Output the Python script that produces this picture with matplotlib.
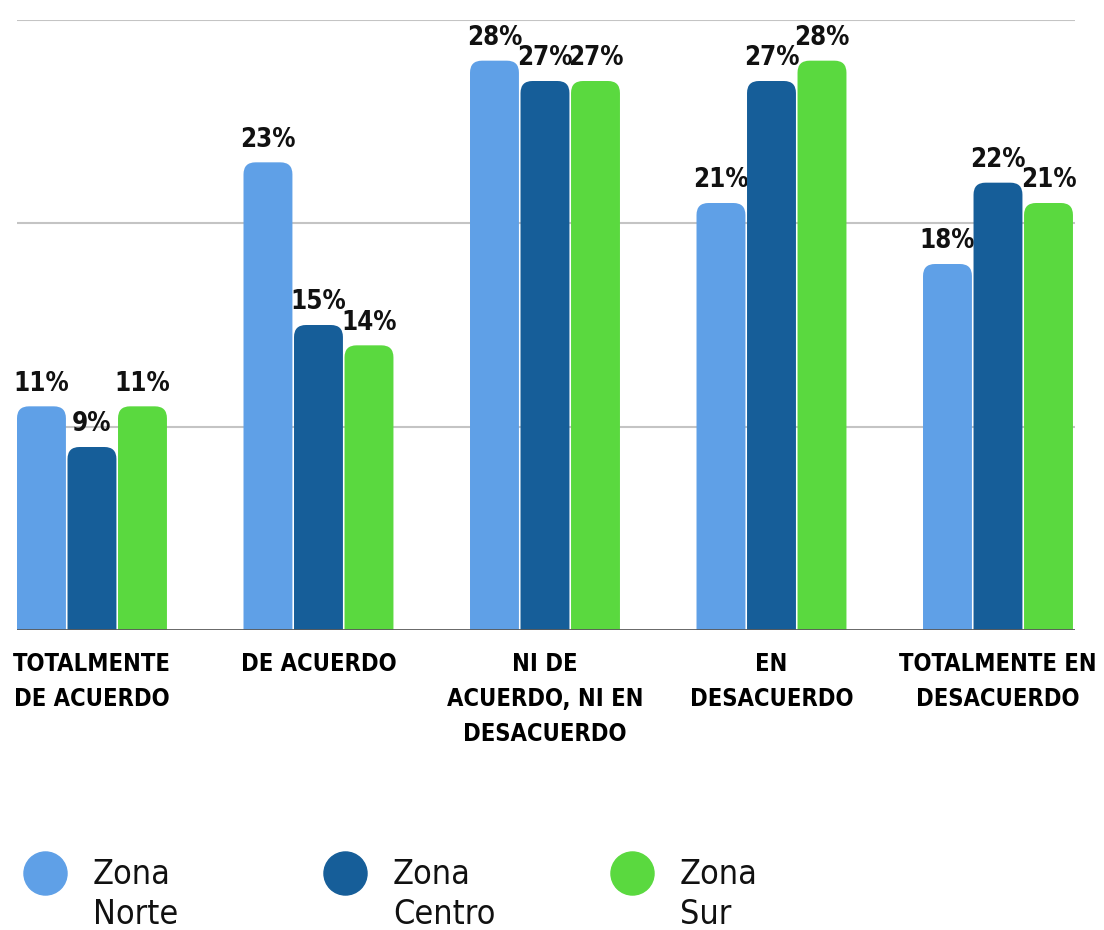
"""
Grouped bar chart of agreement levels by zone, with rounded bar tops.
"""

import matplotlib.pyplot as plt
from matplotlib.lines import Line2D
from matplotlib.patches import FancyBboxPatch

categories = [
    "TOTALMENTE\nDE ACUERDO",
    "DE ACUERDO",
    "NI DE\nACUERDO, NI EN\nDESACUERDO",
    "EN\nDESACUERDO",
    "TOTALMENTE EN\nDESACUERDO",
]
zona_norte = [11, 23, 28, 21, 18]
zona_centro = [9, 15, 27, 27, 22]
zona_sur = [11, 14, 27, 28, 21]
series_names = ["Zona\nNorte", "Zona\nCentro", "Zona\nSur"]
colors = ["#5fa0e7", "#165e99", "#5ad93f"]

FONT = "DejaVu Sans"


def main():
    fig = plt.figure(figsize=(11.04, 9.3), dpi=100)
    ax = fig.add_axes([17 / 1104, 1 - 630 / 930, 1058 / 1104, 610 / 930])

    xmin, xmax = -0.331, 4.34
    ymin, ymax = 0, 30
    ax.set_xlim(xmin, xmax)
    ax.set_ylim(ymin, ymax)

    # pixels per data unit, used to keep the rounded corners circular
    px_x = 1058 / (xmax - xmin)
    px_y = 610 / (ymax - ymin)
    aspect = px_x / px_y
    radius = 12 / px_x

    width = 0.216
    step = 0.223
    series = [zona_norte, zona_centro, zona_sur]

    for s, (values, color) in enumerate(zip(series, colors)):
        for i, v in enumerate(values):
            x0 = i + (s - 1) * step - width / 2
            patch = FancyBboxPatch(
                (x0, -3),
                width,
                v + 3,
                boxstyle=f"round,pad=0,rounding_size={radius}",
                mutation_aspect=aspect,
                facecolor=color,
                edgecolor="none",
                zorder=3,
            )
            ax.add_patch(patch)
            ax.annotate(
                f"{v}%",
                (i + (s - 1) * step, v),
                xytext=(0, 7),
                textcoords="offset points",
                ha="center",
                va="bottom",
                fontsize=18.5,
                fontweight="bold",
                fontstretch="condensed",
                family=FONT,
                color="#111111",
                annotation_clip=False,
            )

    for y in [10, 20, 30]:
        ax.axhline(y, color="#c4c4c4", linewidth=1.5, zorder=1)
    ax.axhline(0, color="#5a5a5a", linewidth=2, zorder=4)

    for side in ax.spines.values():
        side.set_visible(False)
    ax.set_yticks([])
    ax.set_xticks(range(len(categories)))
    ax.set_xticklabels(
        categories,
        fontsize=17,
        fontweight="bold",
        fontstretch="condensed",
        family=FONT,
        linespacing=1.6,
        va="top",
    )
    ax.tick_params(axis="x", length=0, pad=15.5)

    # legend drawn by hand: circle aligned with the first line of text
    legend_x = [45, 345, 632]
    for name, color, lx in zip(series_names, colors, legend_x):
        fig.add_artist(
            Line2D(
                [lx / 1104],
                [1 - 873 / 930],
                marker="o",
                markersize=31,
                color=color,
                linestyle="none",
                transform=fig.transFigure,
            )
        )
        fig.text(
            (lx + 48) / 1104,
            1 - 858 / 930,
            name,
            ha="left",
            va="top",
            fontsize=24.5,
            fontstretch="condensed",
            family=FONT,
            linespacing=1.25,
            color="#111111",
        )

    fig.savefig("out.png", dpi=100, facecolor="white")


if __name__ == "__main__":
    main()
